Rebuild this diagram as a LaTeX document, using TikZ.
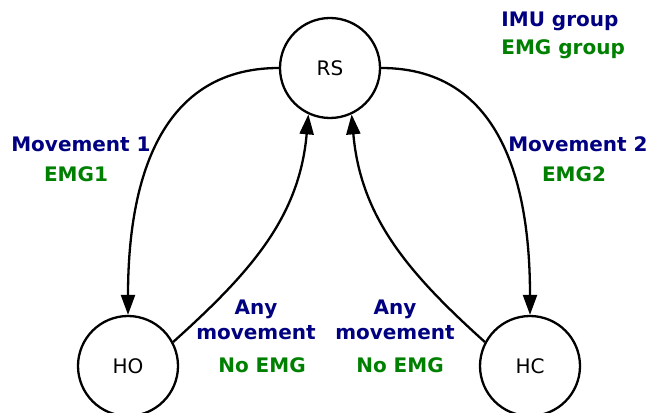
\documentclass[tikz,border=0pt]{standalone}
\usepackage{fontspec}
\setmainfont{DejaVu Sans}
\usetikzlibrary{arrows.meta}
\usepackage{xcolor}
\definecolor{imublue}{RGB}{0,0,128}
\definecolor{emggreen}{RGB}{0,128,0}

\begin{document}
\begin{tikzpicture}[x=.5pt, y=.5pt,
  state/.style={draw, circle, line width=1.15pt, minimum size=50pt, inner sep=0pt, font=\fontsize{10}{12}\selectfont},
  trans/.style={line width=1.15pt, -{Triangle[length=10pt,width=7pt]}},
  imu/.style={text=imublue, font=\fontsize{10}{12.3}\selectfont\bfseries, align=center, inner sep=0pt},
  emg/.style={text=emggreen, font=\fontsize{10}{12.3}\selectfont\bfseries, inner sep=0pt}]
\useasboundingbox (0,0) rectangle (646,412);
\clip (0,0) rectangle (646,412);
% states
\node[state] (rs) at (330,344) {RS};
\node[state] (ho) at (128,46) {HO};
\node[state] (hc) at (530,46) {HC};
% transitions
\draw[trans] (rs.west) to[out=180, in=90, looseness=1.1] (ho.north);
\draw[trans] (rs.east) to[out=0, in=90, looseness=1.1] (hc.north);
\draw[trans] (ho.28) to[out=42, in=-95] (rs.245);
\draw[trans] (hc.152) to[out=138, in=-85] (rs.295);
% legend
\node[imu, anchor=base west] (imulegend) at (501,385) {IMU group};
\node[emg, anchor=base west] (emglegend) at (501,357) {EMG group};
% labels
\foreach \n/\x/\t in {a/81/Movement 1, b/578/Movement 2}
  \node[imu, anchor=base] (mov\n) at (\x,260) {\t};
\foreach \n/\x/\t in {a/76/EMG1, b/574/EMG2}
  \node[emg, anchor=base] (emg\n) at (\x,230) {\t};
\foreach \n/\x in {a/256, b/395}
  \node[imu] (any\n) at (\x,92) {Any\\movement};
\foreach \n/\x in {a/262, b/400}
  \node[emg, anchor=base] (noemg\n) at (\x,40) {No EMG};
\end{tikzpicture}
\end{document}
